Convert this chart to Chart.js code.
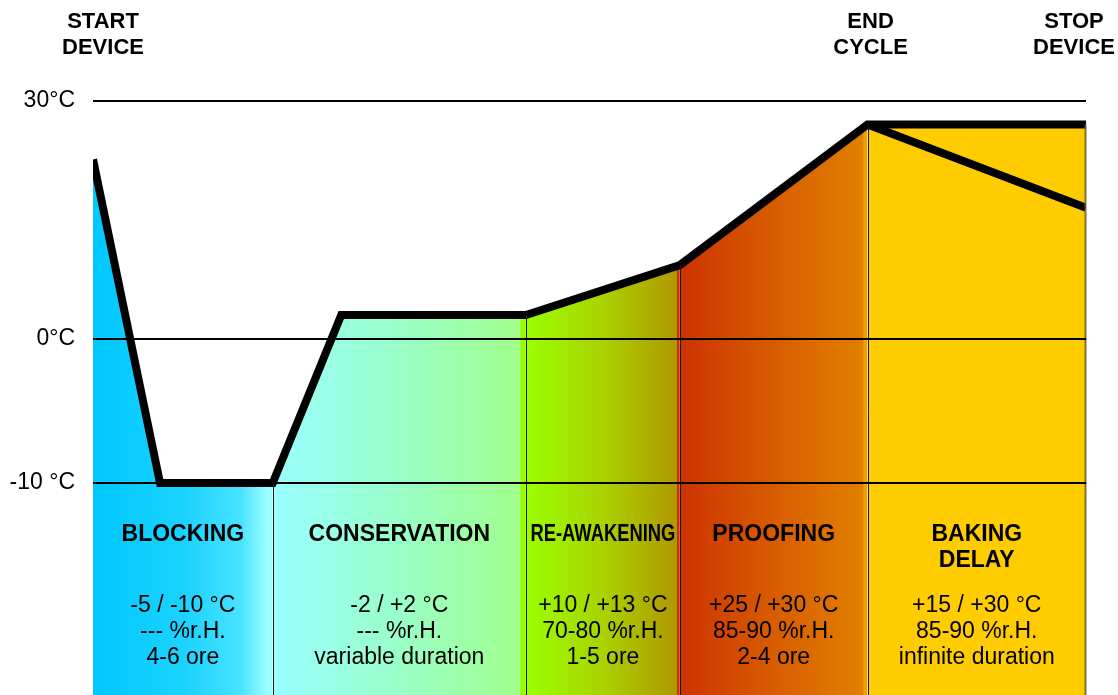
<!DOCTYPE html>
<html>
<head>
<meta charset="utf-8">
<title>Retarder-proofer cycle</title>
<script src="https://cdn.jsdelivr.net/npm/chart.js@4.4.1/dist/chart.umd.min.js"></script>
<style>
  html, body { margin: 0; padding: 0; background: #fff; overflow: hidden; }
  canvas { display: block; }
</style>
</head>
<body>
<canvas id="cycleChart" width="1118" height="695"></canvas>
<script>
// temperature profile of the cycle (time as % of the whole cycle)
const profileTime = [0, 6.75, 18.1, 25.0, 43.6, 59.1, 78.0, 100];
const profileTemp = [22.6, -10, -10, 3.0, 3.0, 9.3, 27.0, 27.0];
// lower branch during baking delay
const delayTime = [78.0, 100];
const delayTemp = [27.0, 16.5];

const phaseEdges = [0, 18.1, 43.6, 59.1, 78.0, 100];
const phaseNames = [['BLOCKING'], ['CONSERVATION'], ['RE-AWAKENING'], ['PROOFING'], ['BAKING', 'DELAY']];
const phaseTemps = ['-5 / -10 °C', '-2 / +2 °C', '+10 / +13 °C', '+25 / +30 °C', '+15 / +30 °C'];
const phaseHumidity = ['--- %r.H.', '--- %r.H.', '70-80 %r.H.', '85-90 %r.H.', '85-90 %r.H.'];
const phaseDuration = ['4-6 ore', 'variable duration', '1-5 ore', '2-4 ore', 'infinite duration'];

const tickTemps = [-10, 0, 30];
const tickLabels = ['-10 °C', '0°C', '30°C'];

const eventTime = [0, 78.0, 100];
const eventNames = [['START', 'DEVICE'], ['END', 'CYCLE'], ['STOP', 'DEVICE']];

const FONT = '"Liberation Sans", Arial, sans-serif';

// the picture draws degrees below zero taller than the ones above
const coldStretch = 1.815;
class SplitScale extends Chart.LinearScale {
  stretch(v) { return v < 0 ? v * coldStretch : v; }
  getPixelForValue(value) {
    const lo = this.stretch(this.min), hi = this.stretch(this.max);
    return this.getPixelForDecimal((this.stretch(value) - lo) / (hi - lo));
  }
  getValueForPixel(pixel) {
    const lo = this.stretch(this.min), hi = this.stretch(this.max);
    const v = lo + this.getDecimalForPixel(pixel) * (hi - lo);
    return v < 0 ? v / coldStretch : v;
  }
}
SplitScale.id = 'split';
SplitScale.defaults = Chart.LinearScale.defaults;
Chart.register(SplitScale);

const phaseStops = [
  [[0, '#00c8ff'], [0.5, '#1ad2ff'], [0.82, '#48e2ff'], [0.97, '#9cffff'], [1, '#9cffff']],
  [[0, '#99ffff'], [0.5, '#99ffc8'], [0.975, '#a0ff8c'], [0.98, '#99ff00'], [1, '#99ff00']],
  [[0, '#99ff00'], [0.5, '#aad200'], [0.978, '#b09800'], [0.982, '#cc3300'], [1, '#cc3300']],
  [[0, '#cc3300'], [0.5, '#d85c00'], [0.975, '#e08000'], [0.98, '#f0a000'], [1, '#f0a000']],
  [[0, '#ffcc00'], [1, '#ffcc00']]
];

function phaseFill(chart, i) {
  const x = chart.scales.x;
  if (!chart.chartArea || !x) return phaseStops[i][0][1];
  const g = chart.ctx.createLinearGradient(x.getPixelForValue(phaseEdges[i]), 0, x.getPixelForValue(phaseEdges[i + 1]), 0);
  phaseStops[i].forEach(s => g.addColorStop(s[0], s[1]));
  return g;
}

const profilePoints = profileTime.map((t, k) => ({ x: t, y: profileTemp[k] }));

const phaseSets = phaseEdges.slice(0, -1).map((from, i) => ({
  data: profilePoints.filter(p => p.x >= from && p.x <= phaseEdges[i + 1]),
  borderWidth: 0,
  pointRadius: 0,
  fill: 'start',
  backgroundColor: ctx => phaseFill(ctx.chart, i),
  order: 2
}));

// thin lines between the phases, from the curve down to the bottom
const separators = {
  id: 'separators',
  afterDatasetsDraw(chart) {
    const { ctx, scales: { x, y }, chartArea } = chart;
    ctx.save();
    phaseEdges.slice(1).forEach((t, i) => {
      const k = profileTime.indexOf(t);
      const px = Math.round(x.getPixelForValue(t)) + 0.5;
      const last = i === phaseEdges.length - 2;
      ctx.strokeStyle = last ? 'rgba(110,95,40,0.85)' : '#1a1a1a';
      ctx.lineWidth = last ? 2 : 1;
      ctx.beginPath();
      ctx.moveTo(last ? px - 1 : px, y.getPixelForValue(profileTemp[k]));
      ctx.lineTo(last ? px - 1 : px, chartArea.bottom);
      ctx.stroke();
    });
    ctx.restore();
  }
};

const labels = {
  id: 'labels',
  afterDraw(chart) {
    const { ctx, scales: { x } } = chart;
    ctx.save();
    ctx.fillStyle = '#000';
    ctx.textAlign = 'center';
    ctx.textBaseline = 'middle';

    ctx.font = 'bold 22px ' + FONT;
    const shift = [10, 3, -12];
    eventNames.forEach((lines, i) => {
      const cx = x.getPixelForValue(eventTime[i]) + shift[i];
      lines.forEach((t, j) => ctx.fillText(t, cx, 22 + j * 26));
    });

    phaseNames.forEach((lines, i) => {
      const left = x.getPixelForValue(phaseEdges[i]);
      const right = x.getPixelForValue(phaseEdges[i + 1]);
      const cx = (left + right) / 2;
      ctx.font = 'bold 23px ' + FONT;
      lines.forEach((t, j) => ctx.fillText(t, cx, 535 + j * 26, right - left - 9));
      ctx.font = '23px ' + FONT;
      ctx.fillText(phaseTemps[i], cx, 606);
      ctx.fillText(phaseHumidity[i], cx, 632);
      ctx.fillText(phaseDuration[i], cx, 658);
    });
    ctx.restore();
  }
};

new Chart(document.getElementById('cycleChart'), {
  type: 'line',
  data: {
    datasets: [
      {
        data: profilePoints,
        borderColor: '#000',
        borderWidth: 8,
        borderJoinStyle: 'miter',
        pointRadius: 0,
        fill: false,
        clip: 0,
        order: 0
      },
      {
        data: delayTime.map((t, k) => ({ x: t, y: delayTemp[k] })),
        borderColor: '#000',
        borderWidth: 8,
        pointRadius: 0,
        fill: false,
        clip: 0,
        order: 0
      },
      ...phaseSets
    ]
  },
  options: {
    responsive: false,
    animation: false,
    devicePixelRatio: 1,
    layout: { padding: { top: 80, right: 32, bottom: 0, left: 0 } },
    plugins: { legend: { display: false }, tooltip: { enabled: false } },
    scales: {
      x: { type: 'linear', min: 0, max: 100, display: false },
      y: {
        type: 'split',
        min: -24.7,
        max: 32.6,
        afterBuildTicks: s => { s.ticks = tickTemps.map(v => ({ value: v })); },
        afterFit: s => { s.width = 93; s.paddingTop = 0; s.paddingBottom = 0; },
        ticks: {
          callback: (v, i) => tickLabels[i],
          color: '#000',
          font: { family: FONT, size: 23 },
          padding: 18
        },
        grid: { color: '#000', lineWidth: 2, drawTicks: false, z: 1 },
        border: { display: false }
      }
    }
  },
  plugins: [separators, labels]
});
</script>
</body>
</html>
